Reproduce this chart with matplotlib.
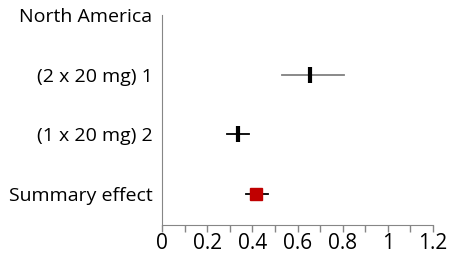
import matplotlib
matplotlib.use("Agg")
import matplotlib.pyplot as plt
from matplotlib.ticker import MultipleLocator

labels = ["North America", "(2 x 20 mg) 1", "(1 x 20 mg) 2", "Summary effect"]
effect = [0.655, 0.334, 0.415]
lower = [0.529, 0.285, 0.373]
upper = [0.805, 0.384, 0.470]
ci_colors = ["#808080", "#000000", "#000000"]
xticks = [0, 0.2, 0.4, 0.6, 0.8, 1.0, 1.2]
xtick_labels = ["0", "0.2", "0.4", "0.6", "0.8", "1", "1.2"]

plt.rcParams["font.family"] = ["Open Sans", "DejaVu Sans"]

fig = plt.figure(figsize=(4.57, 2.58), dpi=100)
ax = fig.add_axes([0.355, 0.128, 0.5925, 0.814])

rows = list(range(1, len(labels)))
for i, r in enumerate(rows):
    ax.plot([lower[i], upper[i]], [r, r], color=ci_colors[i], lw=1.3, zorder=2)
    if i < len(rows) - 1:
        ax.plot(effect[i], r, marker="|", color="black", markersize=11,
                markeredgewidth=3, zorder=3)
    else:
        ax.plot(effect[i], r, marker="s", color="#C00000", markersize=9,
                markeredgecolor="#C00000", zorder=3)

ax.set_xlim(0, 1.2)
ax.set_ylim(3.52, 0)
ax.set_xticks(xticks)
ax.set_xticklabels(xtick_labels, fontsize=15)
ax.xaxis.set_minor_locator(MultipleLocator(0.1))
ax.tick_params(axis="x", which="both", direction="out", length=5, color="#868686",
               width=1, pad=1)
ax.set_yticks(range(len(labels)))
ax.set_yticklabels(labels, fontsize=14)
ax.tick_params(axis="y", length=0, pad=7)

for s in ["top", "right"]:
    ax.spines[s].set_visible(False)
for s in ["left", "bottom"]:
    ax.spines[s].set_color("#868686")

fig.savefig("out.png", dpi=100)
